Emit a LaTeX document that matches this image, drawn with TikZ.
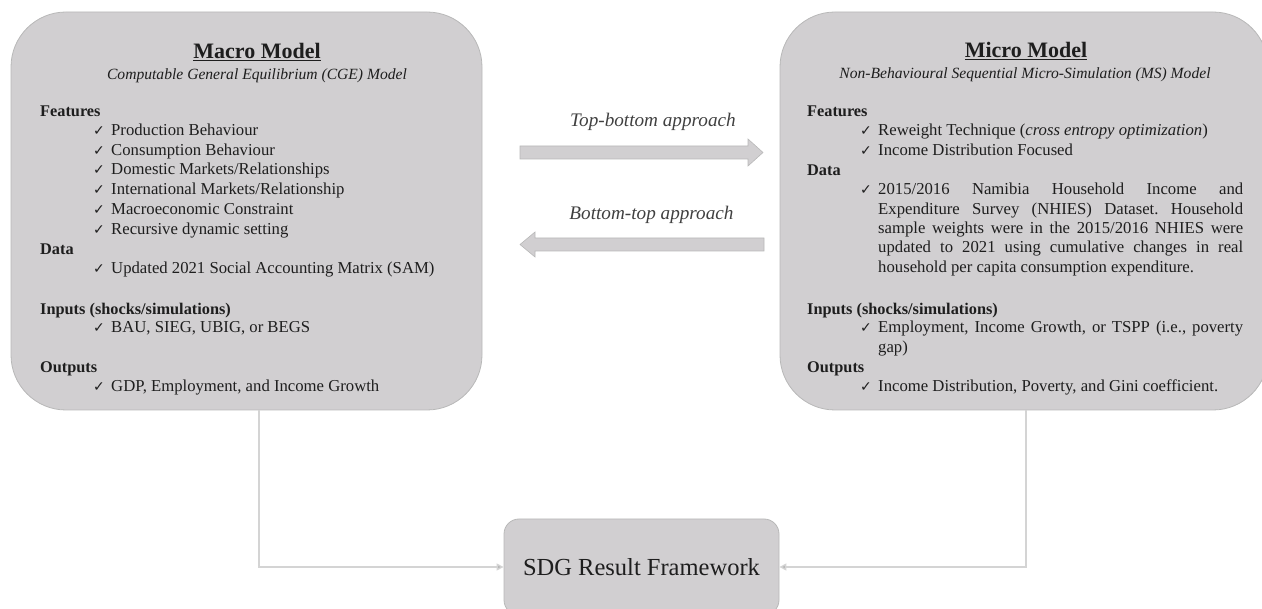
\documentclass[tikz,border=0pt]{standalone}
\usepackage{fontspec}
\setmainfont{Liberation Serif}
\newfontfamily\symfont{DejaVu Sans}
\definecolor{boxgray}{HTML}{D1CFD1}
\definecolor{boxline}{HTML}{B8B8B8}
\definecolor{linkgray}{HTML}{D4D4D4}
\definecolor{ink}{HTML}{1E1E1E}
\usetikzlibrary{arrows.meta}
\setlength{\parindent}{0pt}
\frenchspacing
\newcommand{\chk}{\makebox[18pt][l]{\symfont\fontsize{14}{14}\selectfont ✓}}
\newcommand{\titleline}[1]{{\setbox0\hbox{#1}\rlap{\rule[-2.5pt]{\wd0}{1.1pt}}\box0}}
\tikzset{
  modelbox/.style={draw=boxline, fill=boxgray, line width=0.8pt, rounded corners=55},
  blockarrow/.style={draw=boxline, fill=boxgray, line width=0.6pt},
  body/.style={font=\fontsize{16.7}{19.3}\selectfont, text=ink, inner sep=0pt, anchor=base west},
  head/.style={body, font=\fontsize{16.3}{19.3}\selectfont\bfseries},
  title/.style={font=\fontsize{22}{24}\selectfont\bfseries, text=ink, inner sep=0pt, anchor=base},
  subtitle/.style={font=\fontsize{15.6}{18}\selectfont\itshape, text=ink, inner sep=0pt, anchor=base},
  approach/.style={font=\fontsize{19.2}{22}\selectfont\itshape, text=ink!85, inner sep=0pt, anchor=base},
  link/.style={draw=linkgray, line width=1.3pt, -{Triangle[length=7pt,width=7pt,fill=boxline]}}
}
\begin{document}
\begin{tikzpicture}[x=1pt, y=-1pt]
  \useasboundingbox (0,0) rectangle (1262,609);

  % the two model boxes
  \node[modelbox, minimum width=471, minimum height=398] (macro) at (246.5,211) {};
  \node[modelbox, minimum width=488, minimum height=398] (micro) at (1024,211) {};

  % macro model
  \node[title] (mactitle) at (257,59) {\titleline{Macro Model}};
  \node[subtitle] (macsub) at (257,80) {Computable General Equilibrium (CGE) Model};
  \node[head] (macfeat) at (40,117) {Features};
  \foreach \y/\txt [count=\i] in {
    136/Production Behaviour,
    156/Consumption Behaviour,
    175/{Domestic Markets/Relationships},
    195/{International Markets/Relationship},
    215/Macroeconomic Constraint,
    235/Recursive dynamic setting} {
    \node[body] (macf\i) at (93,\y) {\chk\txt};
  }
  \node[head] (macdata) at (40,255) {Data};
  \node[body] (macd1) at (93,274) {\chk Updated 2021 Social Accounting Matrix (SAM)};
  \node[head] (macin) at (40,315) {Inputs (shocks/simulations)};
  \node[body] (maci1) at (93,333) {\chk BAU, SIEG, UBIG, or BEGS};
  \node[head] (macout) at (40,373) {Outputs};
  \node[body] (maco1) at (93,392) {\chk GDP, Employment, and Income Growth};

  % micro model
  \node[title] (mictitle) at (1026,58) {\titleline{Micro Model}};
  \node[subtitle] (micsub) at (1025,79) {Non-Behavioural Sequential Micro-Simulation (MS) Model};
  \node[head] (micfeat) at (807,117) {Features};
  \node[body] (micf1) at (860,136) {\chk Reweight Technique (\textit{cross entropy optimization})};
  \node[body] (micf2) at (860,156) {\chk Income Distribution Focused};
  \node[head] (micdata) at (807,176) {Data};
  \node[body] (micd0) at (860,195) {\chk};
  \node[body, text width=365, align=justify] (micd1) at (878,195)
    {2015/2016 Namibia Household Income and\linebreak
     Expenditure Survey (NHIES) Dataset. Household\linebreak
     sample weights were in the 2015/2016 NHIES were\linebreak
     updated to 2021 using cumulative changes in real\linebreak
     household per capita consumption expenditure.};
  \node[head] (micin) at (807,315) {Inputs (shocks/simulations)};
  \node[body] (mici0) at (860,333) {\chk};
  \node[body, text width=365, align=justify] (mici1) at (878,333)
    {Employment, Income Growth, or TSPP (i.e., poverty\linebreak gap)};
  \node[head] (micout) at (807,373) {Outputs};
  \node[body] (mico1) at (860,392) {\chk Income Distribution, Poverty, and Gini coefficient.};

  % approaches
  \node[approach] (topdown) at (653,127) {Top-bottom approach};
  \filldraw[blockarrow] (520,146) -- (748,146) -- (748,139) -- (763,152.5) -- (748,166) -- (748,159) -- (520,159) -- cycle;
  \node[approach] (bottomup) at (651.5,220) {Bottom-top approach};
  \filldraw[blockarrow] (764,238) -- (535,238) -- (535,232) -- (520,244.5) -- (535,257) -- (535,251) -- (764,251) -- cycle;

  % result framework
  \node[modelbox, rounded corners=15, minimum width=275, minimum height=96,
        font=\fontsize{24.5}{28}\selectfont, text=ink] (sdg) at (641.5,567) {SDG Result Framework};
  \draw[link] ([xshift=12.5]macro.south) |- (sdg.west);
  \draw[link] ([xshift=2]micro.south) |- (sdg.east);
\end{tikzpicture}
\end{document}
